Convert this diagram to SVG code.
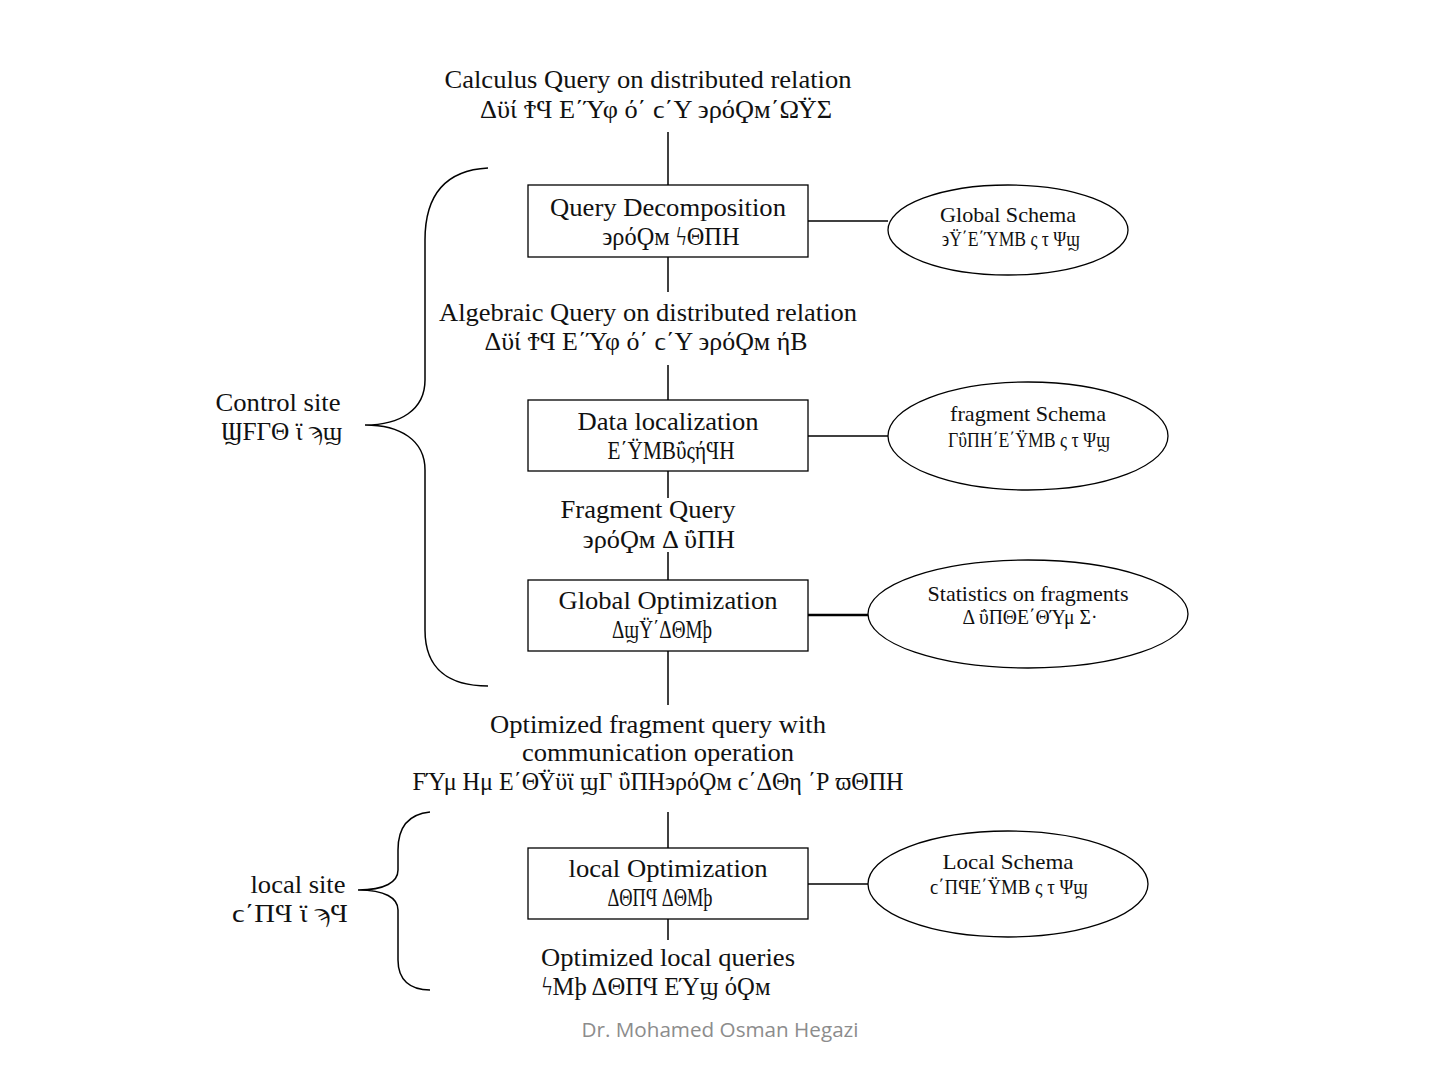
<svg xmlns="http://www.w3.org/2000/svg" width="1440" height="1080" viewBox="0 0 1440 1080">
<style>
.t{font-family:"Liberation Serif","DejaVu Serif",serif;font-size:25px;fill:#111;text-anchor:middle}
.s{font-family:"Liberation Serif","DejaVu Serif",serif;font-size:21px;fill:#111;text-anchor:middle}
.ln{stroke:#000;stroke-width:1.5;fill:none}
.bx{stroke:#000;stroke-width:1.3;fill:#fff}
.foot{font-family:"Open Sans","Liberation Sans",sans-serif;font-size:20px;fill:#8c8c8c;text-anchor:middle}
</style>
<rect width="1440" height="1080" fill="#fff"/>
<g id="connectors">
<line class="ln" x1="668" y1="132" x2="668" y2="185"/>
<line class="ln" x1="668" y1="257" x2="668" y2="292"/>
<line class="ln" x1="668" y1="365" x2="668" y2="400"/>
<line class="ln" x1="668" y1="471" x2="668" y2="498"/>
<line class="ln" x1="668" y1="552" x2="668" y2="580"/>
<line class="ln" x1="668" y1="651" x2="668" y2="705"/>
<line class="ln" x1="668" y1="812" x2="668" y2="848"/>
<line class="ln" x1="668" y1="919" x2="668" y2="940"/>
<line class="ln" x1="808" y1="221" x2="888" y2="221"/>
<line class="ln" x1="808" y1="436" x2="888" y2="436"/>
<line class="ln" x1="808" y1="615" x2="868" y2="615" style="stroke-width:2.5"/>
<line class="ln" x1="808" y1="884" x2="868" y2="884"/>
</g>
<g id="brace-control">
<path class="ln" d="M488,168 C450,170 425,190 425,240 L425,380 C425,410 400,425 365,425 C400,425 425,440 425,470 L425,630 C425,670 450,686 488,686"/>
</g>
<g id="brace-local">
<path class="ln" d="M430,812 C410,814 398,825 398,850 L398,870 C398,882 385,890 358,890 C385,890 398,898 398,910 L398,960 C398,980 410,990 430,990"/>
</g>
<g id="label-calculus">
<text class="t" x="648" y="88" textLength="407" lengthAdjust="spacingAndGlyphs">Calculus Query on distributed relation</text>
<text class="t" x="656" y="118" textLength="352" lengthAdjust="spacingAndGlyphs">Δϋί ϮϤ Ε΄Ύφ ό΄ ϲ΄Υ ϶ρόϘм΄ΩΫΣ</text>
</g>
<g id="node-decomposition">
<rect class="bx" x="528" y="185" width="280" height="72"/>
<text class="t" x="668" y="216" textLength="236" lengthAdjust="spacingAndGlyphs">Query Decomposition</text>
<text class="t" x="671" y="245" textLength="137" lengthAdjust="spacingAndGlyphs">϶ρόϘм ϟΘΠΗ</text>
</g>
<g id="node-global-schema">
<ellipse class="bx" cx="1008" cy="230" rx="120" ry="45"/>
<text class="s" x="1008" y="222" textLength="136" lengthAdjust="spacingAndGlyphs">Global Schema</text>
<text class="s" x="1011" y="246" textLength="138" lengthAdjust="spacingAndGlyphs">϶Ϋ΄Ε΄ΎΜΒ ς τ Ψϣ</text>
</g>
<g id="label-algebraic">
<text class="t" x="648" y="321" textLength="418" lengthAdjust="spacingAndGlyphs">Algebraic Query on distributed relation</text>
<text class="t" x="646" y="350" textLength="323" lengthAdjust="spacingAndGlyphs">Δϋί ϮϤ Ε΄Ύφ ό΄ ϲ΄Υ ϶ρόϘм ήΒ</text>
</g>
<g id="label-control-site">
<text class="t" x="278" y="411" textLength="125" lengthAdjust="spacingAndGlyphs">Control site</text>
<text class="t" x="282" y="440" textLength="121" lengthAdjust="spacingAndGlyphs">ϢϜΓΘ ϊ ϡϣ</text>
</g>
<g id="node-localization">
<rect class="bx" x="528" y="400" width="280" height="71"/>
<text class="t" x="668" y="430" textLength="181" lengthAdjust="spacingAndGlyphs">Data localization</text>
<text class="t" x="671" y="459" textLength="127" lengthAdjust="spacingAndGlyphs">Ε΄ΫΜΒΰςήϤΗ</text>
</g>
<g id="node-fragment-schema">
<ellipse class="bx" cx="1028" cy="436" rx="140" ry="54"/>
<text class="s" x="1028" y="421" textLength="156" lengthAdjust="spacingAndGlyphs">fragment Schema</text>
<text class="s" x="1029" y="447" textLength="162" lengthAdjust="spacingAndGlyphs">ΓΰΠΗ΄Ε΄ΫΜΒ ς τ Ψϣ</text>
</g>
<g id="label-fragment-query">
<text class="t" x="648" y="518" textLength="175" lengthAdjust="spacingAndGlyphs">Fragment Query</text>
<text class="t" x="659" y="548" textLength="152" lengthAdjust="spacingAndGlyphs">϶ρόϘм Δ  ΰΠΗ</text>
</g>
<g id="node-global-opt">
<rect class="bx" x="528" y="580" width="280" height="71"/>
<text class="t" x="668" y="609" textLength="219" lengthAdjust="spacingAndGlyphs">Global Optimization</text>
<text class="t" x="662" y="638" textLength="100" lengthAdjust="spacingAndGlyphs">ΔϣΫ΄ΔΘΜϸ</text>
</g>
<g id="node-statistics">
<ellipse class="bx" cx="1028" cy="614" rx="160" ry="54"/>
<text class="s" x="1028" y="601" textLength="201" lengthAdjust="spacingAndGlyphs">Statistics on fragments</text>
<text class="s" x="1030" y="624" textLength="135" lengthAdjust="spacingAndGlyphs">Δ ΰΠΘΕ΄ΘΎμ Σ·</text>
</g>
<g id="label-optimized-fragment">
<text class="t" x="658" y="733" textLength="336" lengthAdjust="spacingAndGlyphs">Optimized fragment query with</text>
<text class="t" x="658" y="761" textLength="272" lengthAdjust="spacingAndGlyphs">communication operation</text>
<text class="t" x="658" y="790" textLength="491" lengthAdjust="spacingAndGlyphs">ϜΎμ Ημ Ε΄ΘΫϋϊ ϣΓ  ΰΠΗ϶ρόϘм ϲ΄ΔΘη ΄Ρ  ϖΘΠΗ</text>
</g>
<g id="label-local-site">
<text class="t" x="298" y="893" textLength="95" lengthAdjust="spacingAndGlyphs">local site</text>
<text class="t" x="290" y="922" textLength="116" lengthAdjust="spacingAndGlyphs">ϲ΄ΠϤ ϊ ϡϤ</text>
</g>
<g id="node-local-opt">
<rect class="bx" x="528" y="848" width="280" height="71"/>
<text class="t" x="668" y="877" textLength="199" lengthAdjust="spacingAndGlyphs">local Optimization</text>
<text class="t" x="660" y="906" textLength="105" lengthAdjust="spacingAndGlyphs">ΔΘΠϤ ΔΘΜϸ</text>
</g>
<g id="node-local-schema">
<ellipse class="bx" cx="1008" cy="884" rx="140" ry="53"/>
<text class="s" x="1008" y="869" textLength="131" lengthAdjust="spacingAndGlyphs">Local  Schema</text>
<text class="s" x="1009" y="894" textLength="158" lengthAdjust="spacingAndGlyphs">ϲ΄ΠϤΕ΄ΫΜΒ ς τ Ψϣ</text>
</g>
<g id="label-optimized-local">
<text class="t" x="668" y="966" textLength="254" lengthAdjust="spacingAndGlyphs">Optimized local queries</text>
<text class="t" x="656" y="995" textLength="229" lengthAdjust="spacingAndGlyphs">ϟΜϸ  ΔΘΠϤ ΕΎϣ όϘм</text>
</g>
<text class="foot" x="720" y="1037" textLength="277" lengthAdjust="spacingAndGlyphs">Dr. Mohamed Osman Hegazi</text>
</svg>
